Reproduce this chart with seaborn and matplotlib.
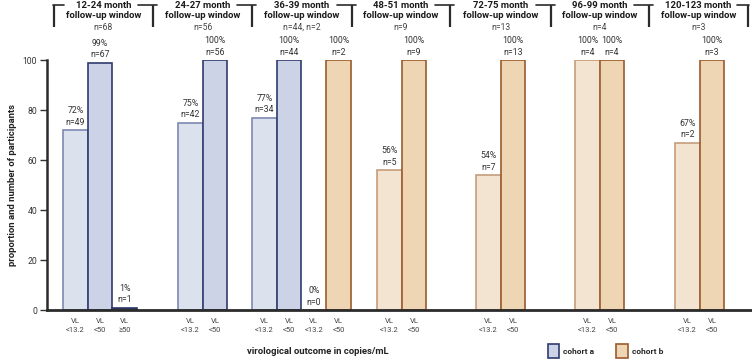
import matplotlib
matplotlib.use("Agg")
import matplotlib.pyplot as plt
import seaborn as sns
import pandas as pd
import numpy as np
from matplotlib.patches import Patch
from matplotlib.lines import Line2D

# ---------------- data ----------------
windows = ["12-24 month", "24-27 month", "36-39 month", "48-51 month",
           "72-75 month", "96-99 month", "120-123 month"]
window_n = ["n=68", "n=56", "n=44, n=2", "n=9", "n=13", "n=4", "n=3"]

bar_window = [0, 0, 0, 1, 1, 2, 2, 2, 2, 3, 3, 4, 4, 5, 5, 6, 6]
cohort = ["a", "a", "a", "a", "a", "a", "a", "b", "b", "b", "b", "b", "b", "b", "b", "b", "b"]
threshold = ["<13.2", "<50", "≥50", "<13.2", "<50", "<13.2", "<50", "<13.2", "<50",
             "<13.2", "<50", "<13.2", "<50", "<13.2", "<50", "<13.2", "<50"]
percent = [72, 99, 1, 75, 100, 77, 100, 0, 100, 56, 100, 54, 100, 100, 100, 67, 100]
count = [49, 67, 1, 42, 56, 34, 44, 0, 2, 5, 9, 7, 13, 4, 4, 2, 3]

# ---------------- layout ----------------
W, H = 752, 361
bar_w = 24.7
group_left = [63, 178, 252, 377, 476, 575, 675]
separators = [54, 153, 252, 352, 450, 551, 649, 748]

pos = []
idx_in_group = {}
for g in bar_window:
    k = idx_in_group.get(g, 0)
    pos.append(group_left[g] + (k + 0.5) * bar_w)
    idx_in_group[g] = k + 1

df = pd.DataFrame({
    "x": pos,
    "percent": percent,
    "count": count,
    "kind": [f"{c} {t}" for c, t in zip(cohort, threshold)],
})

hue_order = ["a <13.2", "a <50", "a ≥50", "b <13.2", "b <50"]
fills = {"a <13.2": "#dce1ee", "a <50": "#ccd3e7", "a ≥50": "#3b4677",
         "b <13.2": "#f3e4d1", "b <50": "#eed6b5"}
edges = {"a <13.2": "#7d89b1", "a <50": "#2f3b6e", "a ≥50": "#2a3566",
         "b <13.2": "#c69d7a", "b <50": "#9a5b2c"}

sns.set_style("white")
plt.rcParams["font.family"] = ["Roboto", "DejaVu Sans"]

fig = plt.figure(figsize=(W / 100, H / 100), dpi=100)
ax = fig.add_axes([47 / W, (H - 310) / H, (W - 47) / W, 250 / H])

sns.barplot(data=df, x="x", y="percent", hue="kind", hue_order=hue_order,
            palette=fills, native_scale=True, dodge=False, width=1.0,
            legend=False, ax=ax, linewidth=1.2, saturation=1)
for cont, name in zip(ax.containers, hue_order):
    for p in cont:
        p.set_edgecolor(edges[name])
        p.set_linewidth(1.2)

ax.set_xlim(47, W)
ax.set_ylim(0, 100)

for x, p, n in zip(pos, percent, count):
    ax.annotate(f"{p}%\nn={n}", (x, p), xytext=(0, 2.5), textcoords="offset points",
                ha="center", va="bottom", fontsize=6.3, color="#333333",
                linespacing=1.3, annotation_clip=False)

ax.set_xticks(pos)
ax.set_xticklabels([f"VL\n{t}" for t in threshold], fontsize=5.5, color="#444444",
                   linespacing=1.45)
ax.tick_params(axis="x", length=0, pad=6)
ax.set_yticks([0, 20, 40, 60, 80, 100])
ax.tick_params(axis="y", length=5, width=1, color="#333333", labelsize=6.2,
               labelcolor="#333333", pad=2, left=True)
ax.set_xlabel("")
ax.set_ylabel("proportion and number of participants", fontsize=6.8,
              fontweight="bold", color="#222222", labelpad=4)

for s in ["top", "right"]:
    ax.spines[s].set_visible(False)
ax.spines["left"].set_linewidth(1.8)
ax.spines["left"].set_color("#2b2b2b")
ax.spines["left"].set_bounds(0, 100)
ax.spines["bottom"].set_linewidth(2)
ax.spines["bottom"].set_color("#2b2b2b")
ax.spines["bottom"].set_zorder(5)

# ---------------- header brackets ----------------
ov = fig.add_axes([0, 0, 1, 1])
ov.set_xlim(0, W)
ov.set_ylim(H, 0)
ov.axis("off")
ov.patch.set_visible(False)

lc = "#2b2b2b"
for i, s in enumerate(separators):
    ov.add_line(Line2D([s, s], [4.5, 27], color=lc, lw=1.6, solid_capstyle="butt"))
    if i == 0:
        ov.add_line(Line2D([s - 0.8, s + 10], [5, 5], color=lc, lw=1.2))
    elif i == len(separators) - 1:
        ov.add_line(Line2D([s - 11, s + 0.8], [5, 5], color=lc, lw=1.2))
    else:
        ov.add_line(Line2D([s - 15, s + 4], [5, 5], color=lc, lw=1.2))

for i, (t, n) in enumerate(zip(windows, window_n)):
    cx = (separators[i] + separators[i + 1]) / 2
    ov.text(cx, 5, t, ha="center", va="center", fontsize=6.8, fontweight="bold",
            color="#1a1a1a")
    ov.text(cx, 16, "follow-up window", ha="center", va="center", fontsize=6.8,
            fontweight="bold", color="#1a1a1a")
    ov.text(cx, 27, n, ha="center", va="center", fontsize=6.2, color="#444444")

# ---------------- bottom label & legend ----------------
ov.text(318, 352, "virological outcome in copies/mL", ha="center", va="center",
        fontsize=6.8, fontweight="bold", color="#222222")

handles = [Patch(facecolor=fills["a <50"], edgecolor=edges["a <50"], lw=1.2, label="cohort a"),
           Patch(facecolor=fills["b <50"], edgecolor=edges["b <50"], lw=1.2, label="cohort b")]
leg = fig.legend(handles=handles, loc="center left", bbox_to_anchor=(540 / W, 1 - 351 / H),
                 ncol=2, frameon=False, handlelength=1.4, handleheight=2.2,
                 handletextpad=0.5, columnspacing=2.6,
                 prop={"size": 6, "weight": "bold"})

fig.savefig("out.png", dpi=100)
